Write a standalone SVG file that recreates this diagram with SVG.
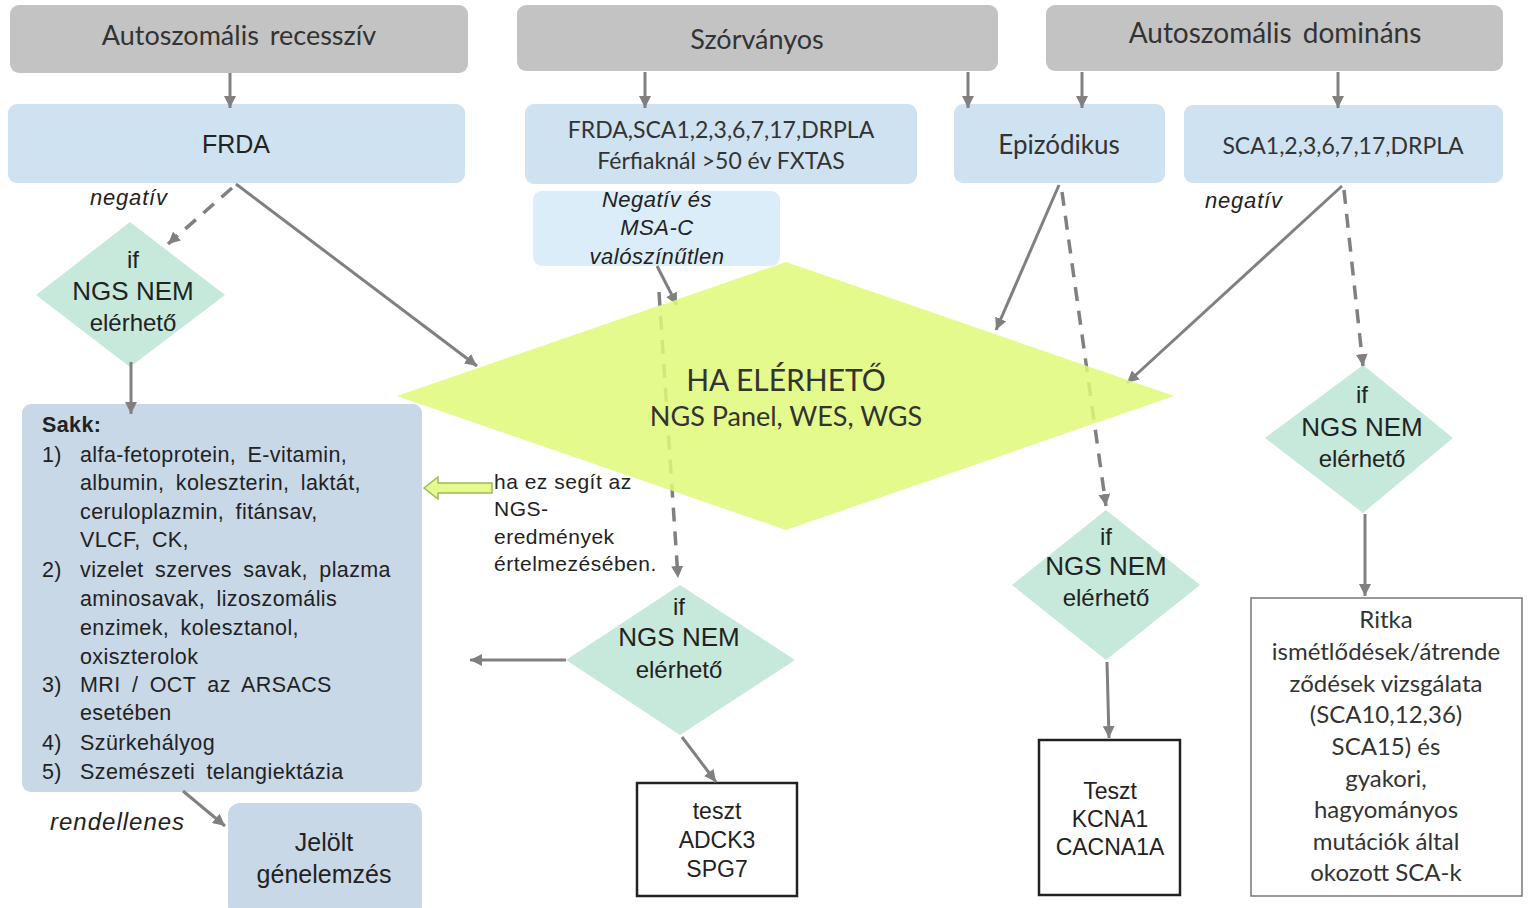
<svg xmlns="http://www.w3.org/2000/svg" width="1529" height="908" viewBox="0 0 1529 908">
<defs>
<marker id="ah" viewBox="0 0 10 10" refX="10" refY="5" markerWidth="12" markerHeight="12" markerUnits="userSpaceOnUse" orient="auto"><path d="M0,0 L10,5 L0,10 z" fill="#808080"/></marker>
</defs>
<style>
.hdr{fill:#c3c3c3}
.blue{fill:#cfe2f1}
.lblue{fill:#dcedfa}
.gray{fill:#c9d8e7}
.mint{fill:#c6e9db}
.c{stroke:#808080;stroke-width:3;fill:none;marker-end:url(#ah)}
.d{stroke-dasharray:14 10;stroke-width:3.5}
.cal{font-family:Lato,"Open Sans",sans-serif;fill:#333;text-anchor:middle}
.ar{font-family:"Liberation Sans",Arial,sans-serif;fill:#222}
.mid{text-anchor:middle}
.it{font-style:italic}
</style>
<rect width="1529" height="908" fill="#fff"/>

<g id="h-ar">
<rect class="hdr" x="10" y="5" width="458" height="68" rx="9"/>
<text class="cal" x="239" y="45" font-size="27" word-spacing="4">Autoszomális recesszív</text>
</g>
<g id="h-sz">
<rect class="hdr" x="517" y="5" width="481" height="66" rx="9"/>
<text class="cal" x="757" y="49" font-size="27">Szórványos</text>
</g>
<g id="h-ad">
<rect class="hdr" x="1046" y="5" width="457" height="66" rx="9"/>
<text class="cal" x="1275" y="43" font-size="28" word-spacing="4">Autoszomális domináns</text>
</g>

<g id="frda">
<rect class="blue" x="8" y="104" width="457" height="79" rx="9"/>
<text class="ar mid" x="236" y="153" font-size="25">FRDA</text>
</g>
<g id="frda-sca">
<rect class="blue" x="525" y="104" width="392" height="80" rx="9"/>
<text class="cal" x="721" y="138" font-size="23">FRDA,SCA1,2,3,6,7,17,DRPLA</text>
<text class="cal" x="721" y="169" font-size="23">Férfiaknál &gt;50 év FXTAS</text>
</g>
<g id="epizodikus">
<rect class="blue" x="954" y="104" width="211" height="79" rx="9"/>
<text class="cal" x="1059" y="154" font-size="26">Epizódikus</text>
</g>
<g id="sca-ad">
<rect class="blue" x="1184" y="105" width="319" height="78" rx="9"/>
<text class="cal" x="1343" y="154" font-size="23">SCA1,2,3,6,7,17,DRPLA</text>
</g>
<g id="negativ-msa">
<rect class="lblue" x="533" y="191" width="247" height="75" rx="9"/>
<g class="ar mid it" font-size="22" letter-spacing="0.5">
<text x="657" y="207">Negatív és</text>
<text x="657" y="235">MSA-C</text>
<text x="657" y="264">valószínűtlen</text>
</g>
</g>

<g id="d-left">
<polygon class="mint" points="130,222 225,295 130,367 36,295"/>
<text class="ar mid" x="133" y="268" font-size="24">if</text>
<text class="ar mid" x="133" y="300" font-size="26">NGS NEM</text>
<text class="ar mid" x="133" y="331" font-size="24">elérhető</text>
</g>
<g id="d-mid">
<polygon class="mint" points="680,585 795,660 680,735 566,660"/>
<text class="ar mid" x="679" y="615" font-size="24">if</text>
<text class="ar mid" x="679" y="646" font-size="26">NGS NEM</text>
<text class="ar mid" x="679" y="678" font-size="24">elérhető</text>
</g>
<g id="d-epi">
<polygon class="mint" points="1106,510 1200,585 1106,660 1012,585"/>
<text class="ar mid" x="1106" y="545" font-size="24">if</text>
<text class="ar mid" x="1106" y="575" font-size="26">NGS NEM</text>
<text class="ar mid" x="1106" y="606" font-size="24">elérhető</text>
</g>
<g id="d-right">
<polygon class="mint" points="1363,365 1453,438 1363,513 1265,438"/>
<text class="ar mid" x="1362" y="403" font-size="24">if</text>
<text class="ar mid" x="1362" y="436" font-size="26">NGS NEM</text>
<text class="ar mid" x="1362" y="467" font-size="24">elérhető</text>
</g>

<g id="sakk">
<rect class="gray" x="22" y="404" width="400" height="388" rx="9"/>
<g class="ar" font-size="21.5" letter-spacing="0.4" word-spacing="5">
<text x="42" y="432" font-weight="bold">Sakk:</text>
<text x="42" y="462">1)</text><text x="80" y="462">alfa-fetoprotein, E-vitamin,</text>
<text x="80" y="490">albumin, koleszterin, laktát,</text>
<text x="80" y="519">ceruloplazmin, fitánsav,</text>
<text x="80" y="547">VLCF, CK,</text>
<text x="42" y="577">2)</text><text x="80" y="577">vizelet szerves savak, plazma</text>
<text x="80" y="606">aminosavak, lizoszomális</text>
<text x="80" y="635">enzimek, kolesztanol,</text>
<text x="80" y="664">oxiszterolok</text>
<text x="42" y="692">3)</text><text x="80" y="692">MRI / OCT az ARSACS</text>
<text x="80" y="720">esetében</text>
<text x="42" y="750">4)</text><text x="80" y="750">Szürkehályog</text>
<text x="42" y="779">5)</text><text x="80" y="779">Szemészeti telangiektázia</text>
</g>
</g>

<g id="jelolt">
<rect class="gray" x="228" y="803" width="194" height="115" rx="12"/>
<text class="ar mid" x="324" y="851" font-size="25">Jelölt</text>
<text class="ar mid" x="324" y="883" font-size="25">génelemzés</text>
</g>

<g id="labels" class="ar it">
<text x="90" y="205" font-size="22" letter-spacing="0.8">negatív</text>
<text x="1205" y="208" font-size="22" letter-spacing="0.8">negatív</text>
<text x="50" y="830" font-size="24" letter-spacing="1">rendellenes</text>
</g>

<g id="help-arrow">
<polygon points="424,488 438,477 438,483 492,483 492,493 438,493 438,499" fill="#e4fa8c" stroke="#9bbb59" stroke-width="1.5"/>
<g class="ar" font-size="21" letter-spacing="0.5">
<text x="494" y="489">ha ez segít az</text>
<text x="494" y="516">NGS-</text>
<text x="494" y="544">eredmények</text>
<text x="494" y="571">értelmezésében.</text>
</g>
</g>

<g id="teszt-adck3">
<rect x="637" y="783" width="160" height="113" fill="#fff" stroke="#222" stroke-width="2.5"/>
<text class="ar mid" x="717" y="819" font-size="23">teszt</text>
<text class="ar mid" x="717" y="848" font-size="23">ADCK3</text>
<text class="ar mid" x="717" y="877" font-size="23">SPG7</text>
</g>
<g id="teszt-kcna1">
<rect x="1039" y="740" width="141" height="155" fill="#fff" stroke="#222" stroke-width="2.5"/>
<text class="ar mid" x="1110" y="799" font-size="23">Teszt</text>
<text class="ar mid" x="1110" y="827" font-size="23">KCNA1</text>
<text class="ar mid" x="1110" y="855" font-size="23">CACNA1A</text>
</g>
<g id="ritka">
<rect x="1251" y="598" width="271" height="298" fill="#fff" stroke="#777" stroke-width="1.5"/>
<g class="cal" font-size="24">
<text x="1386" y="628">Ritka</text>
<text x="1386" y="660">ismétlődések/átrende</text>
<text x="1386" y="692">ződések vizsgálata</text>
<text x="1386" y="723">(SCA10,12,36)</text>
<text x="1386" y="755">SCA15) és</text>
<text x="1386" y="787">gyakori,</text>
<text x="1386" y="818">hagyományos</text>
<text x="1386" y="850">mutációk által</text>
<text x="1386" y="881">okozott SCA-k</text>
</g>
</g>

<g id="connectors">
<path class="c" d="M230,73 V108"/>
<path class="c" d="M645,72 V108"/>
<path class="c" d="M968,72 V108"/>
<path class="c" d="M1082,72 V108"/>
<path class="c" d="M1338,72 V108"/>
<path class="c" d="M236,184 L477,366"/>
<path class="c d" d="M232,188 L168,244"/>
<path class="c" d="M131,362 V414"/>
<path class="c" d="M657,266 L677,305"/>
<path class="c d" d="M659,292 L678,578"/>
<path class="c" d="M566,660 H470"/>
<path class="c" d="M682,737 L716,782"/>
<path class="c" d="M1059,185 L996,330"/>
<path class="c d" d="M1062,192 L1106,506"/>
<path class="c" d="M1107,662 L1109,738"/>
<path class="c" d="M1342,186 L1127,383"/>
<path class="c d" d="M1344,190 L1363,366"/>
<path class="c" d="M1365,514 V596"/>
<path class="c" d="M183,791 L225,826"/>
</g>

<g id="ngs-main">
<polygon points="397,396 786,262 1174,396 786,530" fill="#dff978" fill-opacity="0.85"/>
<text class="cal" x="786" y="391" font-size="30">HA ELÉRHETŐ</text>
<text class="cal" x="786" y="426" font-size="27">NGS Panel, WES, WGS</text>
</g>
</svg>
